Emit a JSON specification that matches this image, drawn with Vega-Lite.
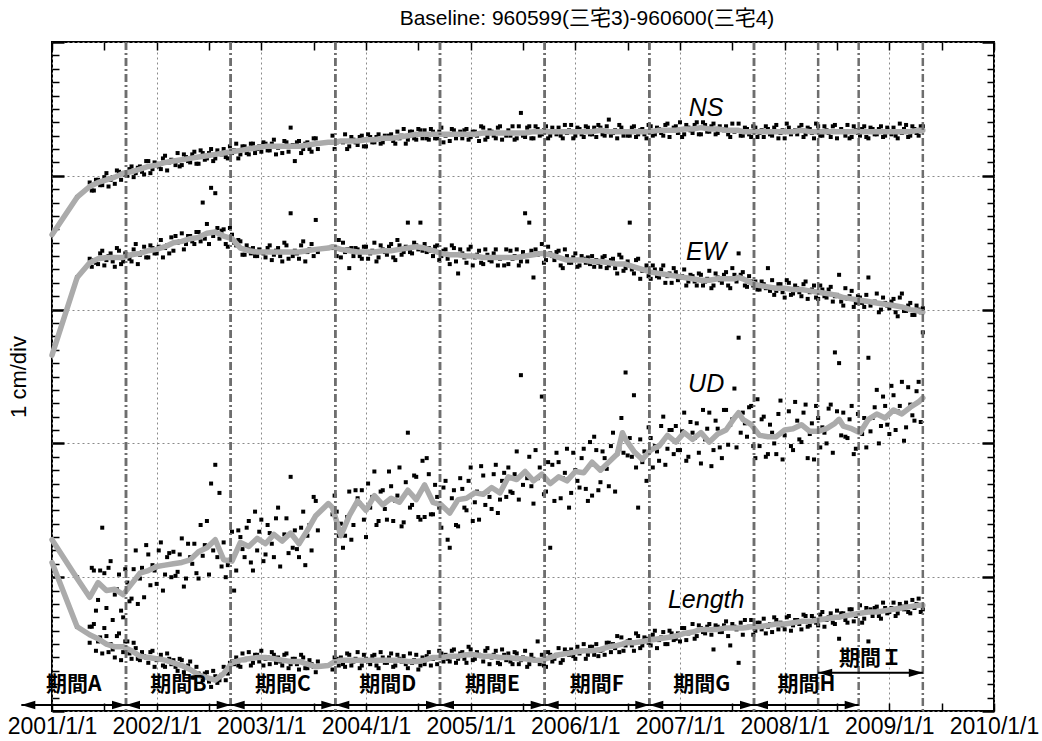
{
"$schema":"https://vega.github.io/schema/vega-lite/v6.json",
"width":942,"height":669,
"autosize":{"type":"none"},
"padding":{"left":52,"top":42,"right":48,"bottom":30},
"background":"white",
"config":{"view":{"stroke":"black","strokeWidth":2},"font":"Liberation Sans"},
"title":{"text":"Baseline: 960599(三宅3)-960600(三宅4)","font":"Liberation Sans, Noto Sans CJK JP","fontSize":21,"fontWeight":"normal","color":"black","anchor":"middle","dx":64,"offset":12},
"datasets":{
"pts":[
{"t":2001.24,"n":38.4,"e":32.4,"u":10.0,"l":6.3},
{"t":2001.36,"n":39.5,"e":33.8,"u":6.3,"l":5.1},
{"t":2001.4,"n":38.9,"e":33.7,"u":10.5,"l":6.5},
{"t":2001.44,"n":39.7,"e":33.4,"u":8.3,"l":5.2},
{"t":2001.48,"n":39.3,"e":34.4,"u":13.7,"l":4.3},
{"t":2001.52,"n":40.2,"e":33.7,"u":7.7,"l":5.6},
{"t":2001.56,"n":39.7,"e":34.2,"u":11.2,"l":5.0},
{"t":2001.6,"n":39.4,"e":33.2,"u":8.7,"l":4.0},
{"t":2001.64,"n":40.3,"e":34.4,"u":10.2,"l":5.8},
{"t":2001.68,"n":40.2,"e":33.6,"u":7.0,"l":4.4},
{"t":2001.72,"n":40.0,"e":34.1,"u":9.6,"l":5.2},
{"t":2001.76,"n":40.7,"e":33.6,"u":8.4,"l":3.9},
{"t":2001.8,"n":40.2,"e":34.9,"u":12.0,"l":4.7},
{"t":2001.84,"n":40.7,"e":34.1,"u":9.9,"l":3.8},
{"t":2001.88,"n":40.1,"e":34.7,"u":8.5,"l":4.1},
{"t":2001.92,"n":41.1,"e":33.9,"u":11.7,"l":3.6},
{"t":2001.96,"n":40.5,"e":34.6,"u":10.9,"l":4.5},
{"t":2002,"n":40.9,"e":34.2,"u":9.5,"l":3.8},
{"t":2002.04,"n":40.5,"e":35.2,"u":12.6,"l":4.2},
{"t":2002.08,"n":41.5,"e":34.6,"u":10.2,"l":3.3},
{"t":2002.12,"n":41.0,"e":34.2,"u":11.8,"l":3.9},
{"t":2002.16,"n":41.1,"e":34.4,"u":11.9,"l":3.8},
{"t":2002.2,"n":41.7,"e":35.0,"u":10.4,"l":3.0},
{"t":2002.24,"n":40.8,"e":35.7,"u":12.9,"l":3.8},
{"t":2002.28,"n":41.4,"e":34.9,"u":9.9,"l":3.2},
{"t":2002.32,"n":41.0,"e":35.5,"u":11.5,"l":3.7},
{"t":2002.36,"n":41.8,"e":34.9,"u":12.5,"l":2.5},
{"t":2002.4,"n":40.9,"e":35.8,"u":9.9,"l":2.8},
{"t":2002.44,"n":41.7,"e":38.0,"u":11.6,"l":2.3},
{"t":2002.48,"n":41.3,"e":36.4,"u":14.2,"l":2.9},
{"t":2002.52,"n":42.0,"e":39.1,"u":17.0,"l":1.8},
{"t":2002.56,"n":41.3,"e":38.7,"u":18.4,"l":2.6},
{"t":2002.6,"n":41.7,"e":35.3,"u":16.3,"l":2.3},
{"t":2002.64,"n":42.0,"e":36.0,"u":12.6,"l":3.3},
{"t":2002.68,"n":41.3,"e":34.7,"u":10.9,"l":2.8},
{"t":2002.72,"n":41.7,"e":35.6,"u":13.4,"l":3.7},
{"t":2002.76,"n":42.4,"e":34.8,"u":10.5,"l":4.0},
{"t":2002.8,"n":41.6,"e":35.1,"u":13.0,"l":3.3},
{"t":2002.84,"n":42.2,"e":34.1,"u":11.5,"l":3.8},
{"t":2002.88,"n":41.6,"e":34.5,"u":14.2,"l":4.4},
{"t":2002.92,"n":42.4,"e":34.6,"u":10.5,"l":3.6},
{"t":2002.96,"n":42.0,"e":34.0,"u":12.0,"l":4.2},
{"t":2003,"n":41.8,"e":34.3,"u":14.3,"l":4.5},
{"t":2003.04,"n":42.4,"e":33.9,"u":11.7,"l":3.9},
{"t":2003.08,"n":41.9,"e":34.8,"u":13.3,"l":3.5},
{"t":2003.12,"n":42.7,"e":34.1,"u":11.5,"l":4.2},
{"t":2003.16,"n":42.1,"e":34.6,"u":15.2,"l":4.0},
{"t":2003.2,"n":41.7,"e":33.6,"u":12.8,"l":3.4},
{"t":2003.24,"n":42.5,"e":34.8,"u":14.4,"l":4.3},
{"t":2003.28,"n":43.6,"e":37.2,"u":17.5,"l":3.5},
{"t":2003.32,"n":41.1,"e":34.4,"u":13.5,"l":3.9},
{"t":2003.36,"n":42.6,"e":33.8,"u":11.5,"l":3.1},
{"t":2003.4,"n":42.0,"e":35.1,"u":14.9,"l":4.0},
{"t":2003.44,"n":42.5,"e":34.3,"u":13.1,"l":3.2},
{"t":2003.48,"n":41.8,"e":34.9,"u":12.0,"l":3.5},
{"t":2003.52,"n":42.8,"e":36.7,"u":15.7,"l":2.9},
{"t":2003.68,"n":43.0,"e":34.6,"u":14.7,"l":3.1},
{"t":2003.72,"n":42.5,"e":34.0,"u":14.9,"l":3.9},
{"t":2003.76,"n":42.6,"e":33.9,"u":14.0,"l":4.0},
{"t":2003.8,"n":43.1,"e":34.3,"u":13.1,"l":3.3},
{"t":2003.84,"n":42.2,"e":33.1,"u":16.4,"l":4.2},
{"t":2003.88,"n":42.7,"e":34.0,"u":13.9,"l":3.7},
{"t":2003.92,"n":42.3,"e":34.5,"u":15.9,"l":4.4},
{"t":2003.96,"n":43.0,"e":33.8,"u":16.5,"l":3.4},
{"t":2004,"n":42.2,"e":34.7,"u":13.0,"l":3.9},
{"t":2004.04,"n":42.9,"e":34.2,"u":15.2,"l":3.5},
{"t":2004.08,"n":42.5,"e":35.0,"u":17.9,"l":4.2},
{"t":2004.12,"n":43.1,"e":33.9,"u":14.2,"l":3.2},
{"t":2004.16,"n":42.5,"e":34.5,"u":16.5,"l":4.0},
{"t":2004.2,"n":42.8,"e":34.1,"u":14.3,"l":3.6},
{"t":2004.24,"n":43.1,"e":34.9,"u":16.8,"l":4.3},
{"t":2004.28,"n":42.4,"e":33.7,"u":15.7,"l":3.4},
{"t":2004.32,"n":42.8,"e":34.8,"u":18.2,"l":3.9},
{"t":2004.36,"n":43.5,"e":34.3,"u":14.1,"l":4.1},
{"t":2004.4,"n":42.7,"e":36.5,"u":20.8,"l":3.2},
{"t":2004.44,"n":43.3,"e":34.2,"u":15.4,"l":3.6},
{"t":2004.48,"n":42.7,"e":34.8,"u":17.5,"l":4.2},
{"t":2004.52,"n":43.4,"e":36.5,"u":14.3,"l":3.4},
{"t":2004.56,"n":43.4,"e":34.9,"u":14.5,"l":3.5},
{"t":2004.6,"n":42.7,"e":34.6,"u":17.7,"l":4.4},
{"t":2004.64,"n":43.3,"e":34.0,"u":14.7,"l":3.9},
{"t":2004.68,"n":42.8,"e":34.8,"u":16.0,"l":3.5},
{"t":2004.72,"n":43.6,"e":34.0,"u":13.7,"l":4.3},
{"t":2004.76,"n":43.0,"e":34.5,"u":17.2,"l":4.2},
{"t":2004.8,"n":42.6,"e":33.4,"u":12.2,"l":3.7},
{"t":2004.84,"n":43.4,"e":34.6,"u":16.5,"l":4.6},
{"t":2004.88,"n":43.1,"e":32.7,"u":13.8,"l":3.9},
{"t":2004.92,"n":42.8,"e":34.2,"u":16.6,"l":4.4},
{"t":2004.96,"n":43.5,"e":33.5,"u":15.0,"l":3.6},
{"t":2005,"n":42.9,"e":34.7,"u":18.2,"l":4.6},
{"t":2005.04,"n":43.3,"e":33.9,"u":15.6,"l":3.9},
{"t":2005.08,"n":42.6,"e":34.4,"u":14.3,"l":4.2},
{"t":2005.12,"n":43.6,"e":33.4,"u":17.6,"l":3.7},
{"t":2005.16,"n":42.9,"e":34.1,"u":16.4,"l":4.7},
{"t":2005.2,"n":43.3,"e":33.6,"u":15.1,"l":4.0},
{"t":2005.24,"n":42.8,"e":34.5,"u":18.4,"l":4.5},
{"t":2005.28,"n":43.7,"e":33.8,"u":15.8,"l":3.5},
{"t":2005.32,"n":43.2,"e":33.3,"u":17.8,"l":4.2},
{"t":2005.36,"n":43.4,"e":33.4,"u":18.2,"l":4.3},
{"t":2005.4,"n":43.7,"e":33.8,"u":16.3,"l":3.5},
{"t":2005.44,"n":42.8,"e":34.5,"u":19.4,"l":4.3},
{"t":2005.48,"n":44.7,"e":33.6,"u":25.1,"l":3.8},
{"t":2005.52,"n":42.9,"e":37.2,"u":17.8,"l":4.5},
{"t":2005.56,"n":43.7,"e":36.5,"u":19.0,"l":3.5},
{"t":2005.6,"n":42.8,"e":32.4,"u":15.5,"l":3.9},
{"t":2005.64,"n":43.5,"e":34.1,"u":17.4,"l":5.2},
{"t":2005.68,"n":43.1,"e":34.9,"u":23.5,"l":4.2},
{"t":2005.72,"n":43.7,"e":33.7,"u":16.4,"l":3.3},
{"t":2005.76,"n":43.0,"e":34.2,"u":12.2,"l":4.2},
{"t":2005.8,"n":43.3,"e":33.7,"u":15.7,"l":3.9},
{"t":2005.84,"n":43.6,"e":34.4,"u":18.6,"l":4.7},
{"t":2005.88,"n":42.8,"e":33.1,"u":17.4,"l":3.8},
{"t":2005.92,"n":43.2,"e":34.0,"u":19.6,"l":4.4},
{"t":2005.96,"n":43.8,"e":33.5,"u":16.3,"l":4.6},
{"t":2006,"n":43.0,"e":34.2,"u":18.0,"l":3.9},
{"t":2006.04,"n":43.5,"e":33.3,"u":16.7,"l":4.3},
{"t":2006.08,"n":42.9,"e":33.8,"u":19.6,"l":5.0},
{"t":2006.12,"n":43.6,"e":33.9,"u":15.7,"l":4.2},
{"t":2006.16,"n":43.1,"e":34.0,"u":16.1,"l":4.8},
{"t":2006.2,"n":42.9,"e":33.7,"u":19.5,"l":5.0},
{"t":2006.24,"n":43.6,"e":33.2,"u":17.1,"l":4.5},
{"t":2006.28,"n":43.0,"e":34.0,"u":18.9,"l":4.2},
{"t":2006.32,"n":44.2,"e":33.3,"u":16.8,"l":5.1},
{"t":2006.36,"n":43.2,"e":33.8,"u":20.8,"l":5.0},
{"t":2006.4,"n":42.8,"e":32.7,"u":19.2,"l":5.6},
{"t":2006.44,"n":43.6,"e":33.9,"u":21.9,"l":5.5},
{"t":2006.48,"n":43.3,"e":33.1,"u":25.3,"l":4.9},
{"t":2006.52,"n":43.0,"e":36.5,"u":20.4,"l":5.3},
{"t":2006.56,"n":43.7,"e":32.7,"u":23.6,"l":4.5},
{"t":2006.6,"n":43.1,"e":33.8,"u":15.2,"l":5.6},
{"t":2006.64,"n":43.5,"e":32.9,"u":18.6,"l":4.9},
{"t":2006.68,"n":42.8,"e":33.3,"u":17.2,"l":5.4},
{"t":2006.72,"n":43.7,"e":32.3,"u":20.4,"l":4.9},
{"t":2006.76,"n":43.1,"e":33.0,"u":19.8,"l":6.0},
{"t":2006.8,"n":43.5,"e":32.4,"u":18.7,"l":5.3},
{"t":2006.84,"n":43.0,"e":33.3,"u":22.0,"l":5.9},
{"t":2006.88,"n":43.9,"e":32.5,"u":19.6,"l":5.0},
{"t":2006.92,"n":43.4,"e":32.0,"u":21.0,"l":5.8},
{"t":2006.96,"n":43.7,"e":32.8,"u":21.3,"l":5.4},
{"t":2007,"n":44.0,"e":32.4,"u":19.5,"l":5.2},
{"t":2007.04,"n":43.1,"e":33.0,"u":22.3,"l":6.2},
{"t":2007.08,"n":43.6,"e":32.1,"u":19.0,"l":5.8},
{"t":2007.12,"n":43.2,"e":32.5,"u":20.8,"l":6.5},
{"t":2007.16,"n":44.0,"e":31.8,"u":21.5,"l":5.6},
{"t":2007.2,"n":43.1,"e":32.6,"u":18.5,"l":6.2},
{"t":2007.24,"n":43.8,"e":32.1,"u":20.3,"l":5.8},
{"t":2007.28,"n":43.3,"e":32.9,"u":22.3,"l":6.5},
{"t":2007.32,"n":43.9,"e":31.8,"u":19.5,"l":4.6},
{"t":2007.36,"n":43.2,"e":32.4,"u":21.1,"l":6.3},
{"t":2007.4,"n":43.5,"e":32.0,"u":18.9,"l":5.9},
{"t":2007.44,"n":43.7,"e":32.8,"u":22.5,"l":6.7},
{"t":2007.48,"n":42.9,"e":31.6,"u":21.4,"l":4.9},
{"t":2007.52,"n":43.3,"e":32.6,"u":24.1,"l":6.3},
{"t":2007.56,"n":43.9,"e":34.2,"u":27.9,"l":3.6},
{"t":2007.6,"n":43.0,"e":32.8,"u":22.3,"l":5.7},
{"t":2007.64,"n":43.5,"e":31.7,"u":20.5,"l":6.2},
{"t":2007.68,"n":42.9,"e":32.1,"u":22.8,"l":6.8},
{"t":2007.72,"n":43.6,"e":32.1,"u":18.9,"l":6.0},
{"t":2007.76,"n":43.2,"e":31.5,"u":19.8,"l":6.6},
{"t":2007.8,"n":42.9,"e":31.9,"u":22.0,"l":6.9},
{"t":2007.84,"n":43.5,"e":33.1,"u":19.2,"l":6.3},
{"t":2007.88,"n":43.0,"e":32.2,"u":20.8,"l":5.9},
{"t":2007.92,"n":43.8,"e":31.4,"u":19.2,"l":6.8},
{"t":2007.96,"n":43.2,"e":31.9,"u":23.2,"l":6.6},
{"t":2008,"n":42.8,"e":30.9,"u":20.6,"l":6.1},
{"t":2008.04,"n":43.6,"e":32.0,"u":22.4,"l":7.1},
{"t":2008.08,"n":43.3,"e":31.2,"u":19.5,"l":6.4},
{"t":2008.12,"n":43.1,"e":31.6,"u":21.7,"l":6.8},
{"t":2008.16,"n":43.8,"e":31.0,"u":20.1,"l":6.1},
{"t":2008.2,"n":43.1,"e":32.1,"u":22.9,"l":7.1},
{"t":2008.24,"n":43.5,"e":31.3,"u":20.7,"l":6.4},
{"t":2008.28,"n":42.8,"e":31.8,"u":18.8,"l":6.9},
{"t":2008.32,"n":43.7,"e":30.8,"u":21.9,"l":6.4},
{"t":2008.36,"n":43.0,"e":31.5,"u":21.2,"l":7.4},
{"t":2008.4,"n":43.4,"e":30.9,"u":20.0,"l":6.8},
{"t":2008.44,"n":42.9,"e":31.7,"u":22.9,"l":7.3},
{"t":2008.48,"n":43.8,"e":31.0,"u":26.8,"l":6.5},
{"t":2008.52,"n":43.3,"e":32.6,"u":26.0,"l":5.4},
{"t":2008.56,"n":43.3,"e":30.3,"u":22.3,"l":7.3},
{"t":2008.6,"n":43.8,"e":30.8,"u":20.4,"l":6.6},
{"t":2008.64,"n":42.9,"e":31.4,"u":22.8,"l":7.6},
{"t":2008.68,"n":43.4,"e":30.5,"u":19.6,"l":7.1},
{"t":2008.72,"n":43.0,"e":30.9,"u":21.1,"l":7.9},
{"t":2008.76,"n":43.7,"e":30.2,"u":21.9,"l":6.9},
{"t":2008.8,"n":42.8,"e":32.4,"u":26.4,"l":5.2},
{"t":2008.84,"n":43.5,"e":30.5,"u":21.9,"l":7.1},
{"t":2008.88,"n":43.1,"e":31.2,"u":24.0,"l":7.8},
{"t":2008.92,"n":43.7,"e":30.0,"u":21.3,"l":6.9},
{"t":2008.96,"n":43.0,"e":30.5,"u":22.8,"l":7.7},
{"t":2009,"n":43.3,"e":30.1,"u":20.7,"l":7.4},
{"t":2009.04,"n":43.6,"e":30.8,"u":23.6,"l":8.1},
{"t":2009.08,"n":42.8,"e":29.5,"u":22.4,"l":7.3},
{"t":2009.12,"n":43.2,"e":31.2,"u":24.6,"l":7.8},
{"t":2009.16,"n":43.8,"e":29.9,"u":21.2,"l":8.1},
{"t":2009.2,"n":43.0,"e":30.5,"u":22.9,"l":7.3},
{"t":2009.24,"n":43.5,"e":29.6,"u":21.7,"l":7.7},
{"t":2009.28,"n":43.0,"e":30.0,"u":24.6,"l":8.4},
{"t":2009.32,"n":43.7,"e":30.1,"u":28.3,"l":7.6},
{"t":2001.38,"n":38.9,"e":33.2,"u":10.7,"l":6.3},
{"t":2001.42,"n":39.7,"e":33.5,"u":7.5,"l":4.5},
{"t":2001.46,"n":39.3,"e":34.2,"u":10.5,"l":5.5},
{"t":2001.5,"n":39.9,"e":33.3,"u":10.3,"l":6.2},
{"t":2001.54,"n":39.2,"e":34.0,"u":10.7,"l":4.4},
{"t":2001.58,"n":39.9,"e":33.6,"u":6.8,"l":4.6},
{"t":2001.62,"n":40.4,"e":34.6,"u":9.1,"l":5.6},
{"t":2001.66,"n":39.7,"e":33.4,"u":7.5,"l":3.8},
{"t":2001.7,"n":40.1,"e":34.2,"u":10.6,"l":5.2},
{"t":2001.74,"n":40.5,"e":33.8,"u":8.2,"l":4.3},
{"t":2001.78,"n":39.9,"e":34.5,"u":10.6,"l":5.1},
{"t":2001.82,"n":40.6,"e":33.4,"u":8.0,"l":3.9},
{"t":2001.86,"n":40.3,"e":34.3,"u":10.7,"l":4.4},
{"t":2001.9,"n":41.1,"e":33.9,"u":12.4,"l":4.0},
{"t":2001.94,"n":40.2,"e":34.8,"u":9.4,"l":4.4},
{"t":2001.98,"n":41.0,"e":34.2,"u":10.5,"l":3.3},
{"t":2002.02,"n":40.7,"e":34.7,"u":12.0,"l":3.9},
{"t":2002.06,"n":41.3,"e":33.9,"u":9.0,"l":3.4},
{"t":2002.1,"n":40.4,"e":34.8,"u":11.5,"l":4.3},
{"t":2002.14,"n":41.2,"e":35.4,"u":10.0,"l":3.5},
{"t":2002.18,"n":40.8,"e":35.5,"u":10.1,"l":3.3},
{"t":2002.22,"n":40.7,"e":35.1,"u":11.7,"l":3.9},
{"t":2002.26,"n":41.6,"e":34.5,"u":9.3,"l":2.9},
{"t":2002.3,"n":41.1,"e":35.5,"u":12.5,"l":3.4},
{"t":2002.34,"n":41.6,"e":35.1,"u":11.0,"l":2.5},
{"t":2002.38,"n":40.9,"e":35.8,"u":10.3,"l":3.3},
{"t":2002.42,"n":41.9,"e":35.1,"u":13.9,"l":2.6},
{"t":2002.46,"n":41.2,"e":35.3,"u":12.4,"l":2.8},
{"t":2002.5,"n":41.7,"e":34.9,"u":10.2,"l":2.2},
{"t":2002.54,"n":41.1,"e":35.5,"u":12.0,"l":3.0},
{"t":2002.58,"n":41.9,"e":36.1,"u":11.5,"l":2.1},
{"t":2002.62,"n":41.6,"e":35.9,"u":10.8,"l":2.7},
{"t":2002.66,"n":41.4,"e":34.9,"u":10.0,"l":2.3},
{"t":2002.7,"n":42.2,"e":36.1,"u":11.3,"l":3.6},
{"t":2002.74,"n":41.9,"e":35.0,"u":9.0,"l":3.5},
{"t":2002.78,"n":41.3,"e":35.2,"u":13.5,"l":3.4},
{"t":2002.82,"n":42.2,"e":34.1,"u":12.1,"l":4.3},
{"t":2002.86,"n":41.7,"e":34.8,"u":13.7,"l":3.9},
{"t":2002.9,"n":42.4,"e":34.2,"u":11.1,"l":3.4},
{"t":2002.94,"n":41.7,"e":34.0,"u":14.9,"l":4.2},
{"t":2002.98,"n":42.2,"e":34.5,"u":13.4,"l":3.7},
{"t":2003.02,"n":42.5,"e":34.2,"u":11.2,"l":3.4},
{"t":2003.06,"n":41.9,"e":34.6,"u":13.9,"l":4.0},
{"t":2003.1,"n":42.4,"e":33.7,"u":12.5,"l":4.4},
{"t":2003.14,"n":41.6,"e":34.4,"u":14.4,"l":3.6},
{"t":2003.18,"n":42.2,"e":34.0,"u":10.8,"l":3.7},
{"t":2003.22,"n":42.6,"e":35.0,"u":13.2,"l":4.2},
{"t":2003.26,"n":41.8,"e":33.8,"u":11.8,"l":3.2},
{"t":2003.3,"n":42.3,"e":34.0,"u":12.2,"l":3.9},
{"t":2003.34,"n":42.5,"e":34.2,"u":12.1,"l":3.5},
{"t":2003.38,"n":41.7,"e":34.8,"u":13.7,"l":4.2},
{"t":2003.42,"n":42.4,"e":33.6,"u":10.9,"l":3.2},
{"t":2003.46,"n":42.0,"e":34.5,"u":13.9,"l":3.8},
{"t":2003.5,"n":42.8,"e":34.0,"u":16.0,"l":3.3},
{"t":2003.54,"n":42.0,"e":34.3,"u":13.5,"l":3.7},
{"t":2003.7,"n":42.0,"e":34.7,"u":16.1,"l":4.0},
{"t":2003.74,"n":42.6,"e":35.2,"u":13.1,"l":3.4},
{"t":2003.78,"n":42.5,"e":35.0,"u":12.2,"l":3.5},
{"t":2003.82,"n":42.0,"e":34.5,"u":14.5,"l":4.3},
{"t":2003.86,"n":42.9,"e":34.6,"u":12.8,"l":3.4},
{"t":2003.9,"n":42.5,"e":34.6,"u":16.5,"l":3.9},
{"t":2003.94,"n":42.9,"e":34.0,"u":15.5,"l":3.2},
{"t":2003.98,"n":42.2,"e":34.7,"u":14.3,"l":4.2},
{"t":2004.02,"n":43.1,"e":33.8,"u":17.0,"l":3.7},
{"t":2004.06,"n":42.5,"e":34.4,"u":16.0,"l":4.1},
{"t":2004.1,"n":42.9,"e":33.6,"u":13.9,"l":3.4},
{"t":2004.14,"n":42.4,"e":34.8,"u":16.4,"l":4.4},
{"t":2004.18,"n":43.0,"e":34.3,"u":15.1,"l":3.6},
{"t":2004.22,"n":43.0,"e":34.7,"u":17.9,"l":4.0},
{"t":2004.26,"n":42.6,"e":33.9,"u":14.2,"l":3.3},
{"t":2004.3,"n":43.3,"e":35.2,"u":16.1,"l":4.2},
{"t":2004.34,"n":43.0,"e":34.1,"u":13.8,"l":3.7},
{"t":2004.38,"n":42.4,"e":34.7,"u":17.1,"l":3.5},
{"t":2004.42,"n":43.3,"e":34.3,"u":15.2,"l":4.3},
{"t":2004.46,"n":42.8,"e":35.0,"u":17.6,"l":3.8},
{"t":2004.5,"n":43.5,"e":34.5,"u":14.5,"l":3.1},
{"t":2004.54,"n":42.8,"e":34.4,"u":18.7,"l":4.0},
{"t":2004.58,"n":42.8,"e":34.3,"u":18.9,"l":4.1},
{"t":2004.62,"n":43.5,"e":34.4,"u":14.7,"l":3.4},
{"t":2004.66,"n":42.8,"e":34.7,"u":16.9,"l":4.0},
{"t":2004.7,"n":43.3,"e":33.7,"u":15.2,"l":4.5},
{"t":2004.74,"n":42.5,"e":34.4,"u":16.7,"l":3.7},
{"t":2004.78,"n":43.1,"e":33.8,"u":12.8,"l":3.9},
{"t":2004.82,"n":43.5,"e":34.8,"u":15.9,"l":4.5},
{"t":2004.86,"n":42.8,"e":33.6,"u":13.9,"l":3.6},
{"t":2004.9,"n":43.3,"e":34.5,"u":17.4,"l":4.3},
{"t":2004.94,"n":43.4,"e":33.9,"u":15.2,"l":3.9},
{"t":2004.98,"n":42.7,"e":34.5,"u":17.2,"l":4.8},
{"t":2005.02,"n":43.3,"e":33.3,"u":14.2,"l":3.8},
{"t":2005.06,"n":43.0,"e":34.1,"u":16.4,"l":4.4},
{"t":2005.1,"n":43.7,"e":33.5,"u":18.3,"l":4.1},
{"t":2005.14,"n":42.7,"e":34.5,"u":15.4,"l":4.5},
{"t":2005.18,"n":43.4,"e":33.7,"u":16.0,"l":3.5},
{"t":2005.22,"n":43.0,"e":34.2,"u":17.7,"l":4.2},
{"t":2005.26,"n":43.6,"e":33.3,"u":14.8,"l":3.6},
{"t":2005.3,"n":42.7,"e":33.9,"u":17.2,"l":4.6},
{"t":2005.34,"n":43.0,"e":34.5,"u":16.0,"l":3.8},
{"t":2005.38,"n":43.0,"e":34.4,"u":16.4,"l":3.7},
{"t":2005.42,"n":42.7,"e":34.0,"u":17.7,"l":4.4},
{"t":2005.46,"n":43.7,"e":33.3,"u":15.8,"l":3.5},
{"t":2005.5,"n":43.0,"e":34.3,"u":16.9,"l":4.0},
{"t":2005.54,"n":43.6,"e":33.6,"u":17.4,"l":3.3},
{"t":2005.58,"n":42.8,"e":34.4,"u":16.8,"l":4.2},
{"t":2005.62,"n":43.7,"e":34.5,"u":19.5,"l":3.8},
{"t":2005.66,"n":43.0,"e":34.2,"u":18.2,"l":3.5},
{"t":2005.7,"n":43.4,"e":33.5,"u":16.2,"l":3.4},
{"t":2005.74,"n":42.8,"e":34.7,"u":18.6,"l":4.4},
{"t":2005.78,"n":43.6,"e":34.0,"u":18.4,"l":3.7},
{"t":2005.82,"n":43.1,"e":34.3,"u":19.3,"l":4.2},
{"t":2005.86,"n":43.0,"e":33.3,"u":15.9,"l":3.6},
{"t":2005.9,"n":43.8,"e":34.5,"u":17.8,"l":4.6},
{"t":2005.94,"n":43.4,"e":33.5,"u":15.2,"l":4.2},
{"t":2005.98,"n":42.8,"e":33.9,"u":19.3,"l":4.1},
{"t":2006.02,"n":43.6,"e":33.2,"u":17.2,"l":4.8},
{"t":2006.06,"n":43.1,"e":34.0,"u":18.9,"l":4.5},
{"t":2006.1,"n":43.7,"e":33.5,"u":16.6,"l":3.9},
{"t":2006.14,"n":43.1,"e":33.4,"u":20.1,"l":4.8},
{"t":2006.18,"n":43.6,"e":33.2,"u":20.5,"l":4.2},
{"t":2006.22,"n":43.8,"e":33.5,"u":16.5,"l":4.1},
{"t":2006.26,"n":43.1,"e":33.9,"u":19.4,"l":4.6},
{"t":2006.3,"n":43.7,"e":33.1,"u":18.1,"l":5.1},
{"t":2006.34,"n":43.0,"e":33.7,"u":19.8,"l":4.4},
{"t":2006.38,"n":43.4,"e":33.1,"u":16.4,"l":4.7},
{"t":2006.42,"n":43.8,"e":34.1,"u":19.6,"l":4.4},
{"t":2006.46,"n":43.0,"e":32.9,"u":19.3,"l":4.5},
{"t":2006.5,"n":43.0,"e":33.6,"u":19.1,"l":5.2},
{"t":2006.54,"n":43.6,"e":33.0,"u":19.0,"l":4.9},
{"t":2006.58,"n":42.9,"e":33.7,"u":18.2,"l":5.8},
{"t":2006.62,"n":43.4,"e":32.3,"u":20.3,"l":4.7},
{"t":2006.66,"n":43.1,"e":33.0,"u":19.4,"l":5.5},
{"t":2006.7,"n":43.8,"e":32.5,"u":21.2,"l":5.1},
{"t":2006.74,"n":43.0,"e":33.3,"u":18.2,"l":5.7},
{"t":2006.78,"n":43.6,"e":32.5,"u":19.4,"l":4.7},
{"t":2006.82,"n":43.2,"e":33.0,"u":21.3,"l":5.5},
{"t":2006.86,"n":43.8,"e":32.0,"u":18.4,"l":5.0},
{"t":2006.9,"n":42.9,"e":32.7,"u":21.0,"l":6.0},
{"t":2006.94,"n":43.6,"e":33.1,"u":19.2,"l":5.3},
{"t":2006.98,"n":43.2,"e":32.2,"u":19.5,"l":5.8},
{"t":2007.02,"n":42.9,"e":32.5,"u":20.9,"l":6.2},
{"t":2007.06,"n":43.8,"e":31.8,"u":18.7,"l":5.3},
{"t":2007.1,"n":43.4,"e":32.6,"u":21.6,"l":5.9},
{"t":2007.14,"n":43.8,"e":32.1,"u":20.4,"l":5.4},
{"t":2007.18,"n":43.1,"e":32.7,"u":19.3,"l":6.4},
{"t":2007.22,"n":44.0,"e":31.8,"u":22.5,"l":5.9},
{"t":2007.26,"n":43.3,"e":32.3,"u":21.1,"l":6.3},
{"t":2007.3,"n":43.7,"e":31.6,"u":18.3,"l":5.7},
{"t":2007.34,"n":43.1,"e":32.7,"u":21.7,"l":6.4},
{"t":2007.38,"n":43.7,"e":32.2,"u":19.7,"l":5.9},
{"t":2007.42,"n":43.4,"e":32.6,"u":22.5,"l":6.4},
{"t":2007.46,"n":43.1,"e":31.8,"u":19.9,"l":5.6},
{"t":2007.5,"n":43.9,"e":33.1,"u":21.8,"l":6.5},
{"t":2007.54,"n":43.4,"e":32.1,"u":19.7,"l":6.1},
{"t":2007.58,"n":43.0,"e":32.6,"u":20.8,"l":6.6},
{"t":2007.62,"n":43.6,"e":31.8,"u":21.5,"l":6.8},
{"t":2007.66,"n":43.1,"e":32.5,"u":22.7,"l":6.3},
{"t":2007.7,"n":43.7,"e":31.8,"u":19.8,"l":5.7},
{"t":2007.74,"n":42.9,"e":31.5,"u":23.3,"l":6.6},
{"t":2007.78,"n":43.4,"e":32.1,"u":21.8,"l":6.1},
{"t":2007.82,"n":43.7,"e":31.6,"u":19.0,"l":5.8},
{"t":2007.86,"n":43.1,"e":31.4,"u":21.4,"l":6.5},
{"t":2007.9,"n":43.6,"e":31.1,"u":20.0,"l":7.0},
{"t":2007.94,"n":42.8,"e":31.9,"u":22.2,"l":6.1},
{"t":2007.98,"n":43.4,"e":31.3,"u":18.8,"l":6.4},
{"t":2008.02,"n":43.9,"e":32.2,"u":21.0,"l":7.0},
{"t":2008.06,"n":43.1,"e":31.1,"u":19.8,"l":6.0},
{"t":2008.1,"n":43.4,"e":31.8,"u":23.1,"l":6.8},
{"t":2008.14,"n":43.6,"e":31.3,"u":20.3,"l":6.5},
{"t":2008.18,"n":42.9,"e":31.9,"u":22.3,"l":7.2},
{"t":2008.22,"n":43.6,"e":30.8,"u":18.9,"l":6.3},
{"t":2008.26,"n":43.2,"e":31.5,"u":21.5,"l":7.1},
{"t":2008.3,"n":43.9,"e":30.9,"u":22.8,"l":6.6},
{"t":2008.34,"n":43.0,"e":31.8,"u":19.7,"l":7.2},
{"t":2008.38,"n":43.7,"e":31.0,"u":20.8,"l":6.3},
{"t":2008.42,"n":43.2,"e":31.5,"u":22.6,"l":7.0},
{"t":2008.46,"n":43.7,"e":30.6,"u":19.3,"l":6.6},
{"t":2008.5,"n":42.8,"e":31.1,"u":22.4,"l":7.5},
{"t":2008.54,"n":43.5,"e":30.6,"u":20.6,"l":7.3},
{"t":2008.58,"n":43.0,"e":31.6,"u":20.5,"l":6.8},
{"t":2008.62,"n":42.8,"e":31.0,"u":21.8,"l":7.6},
{"t":2008.66,"n":43.7,"e":30.2,"u":19.2,"l":6.7},
{"t":2008.7,"n":43.2,"e":31.0,"u":22.2,"l":7.3},
{"t":2008.74,"n":43.5,"e":30.5,"u":20.7,"l":6.6},
{"t":2008.78,"n":42.9,"e":31.1,"u":19.7,"l":7.7},
{"t":2008.82,"n":43.6,"e":30.3,"u":20.9,"l":7.6},
{"t":2008.86,"n":43.1,"e":30.6,"u":22.7,"l":7.7},
{"t":2008.9,"n":43.5,"e":29.8,"u":20.0,"l":7.1},
{"t":2008.94,"n":42.9,"e":30.9,"u":23.5,"l":8.1},
{"t":2008.98,"n":43.6,"e":30.3,"u":21.4,"l":7.3},
{"t":2009.02,"n":43.1,"e":30.6,"u":24.3,"l":7.7},
{"t":2009.06,"n":43.0,"e":29.8,"u":21.0,"l":7.1},
{"t":2009.1,"n":43.9,"e":30.9,"u":22.8,"l":8.0},
{"t":2009.14,"n":43.5,"e":29.9,"u":20.2,"l":7.6},
{"t":2009.18,"n":42.9,"e":30.3,"u":24.2,"l":7.4},
{"t":2009.22,"n":43.7,"e":29.6,"u":22.1,"l":8.3},
{"t":2009.26,"n":43.2,"e":30.3,"u":23.9,"l":8.0},
{"t":2009.3,"n":43.7,"e":29.8,"u":21.6,"l":7.4}
],
"ln":[
{"t":2001,"n":35.6,"e":26.6,"u":12.8,"l":11.1},
{"t":2001.24,"n":38.4,"e":32.4,"u":9.9,"l":6.3},
{"t":2001.36,"n":39.2,"e":33.5,"u":8.5,"l":5.7},
{"t":2001.44,"n":39.5,"e":33.8,"u":9.6,"l":5.4},
{"t":2001.52,"n":39.7,"e":33.9,"u":9.0,"l":5.0},
{"t":2001.6,"n":39.9,"e":33.9,"u":9.1,"l":4.8},
{"t":2001.68,"n":40.2,"e":33.9,"u":8.7,"l":4.8},
{"t":2001.76,"n":40.3,"e":34.1,"u":9.5,"l":4.5},
{"t":2001.84,"n":40.5,"e":34.2,"u":10.3,"l":4.1},
{"t":2001.92,"n":40.7,"e":34.4,"u":10.5,"l":4.0},
{"t":2002,"n":40.8,"e":34.5,"u":10.8,"l":3.9},
{"t":2002.08,"n":41.0,"e":34.7,"u":10.9,"l":3.8},
{"t":2002.16,"n":41.1,"e":35.0,"u":11.0,"l":3.6},
{"t":2002.24,"n":41.2,"e":35.1,"u":11.1,"l":3.4},
{"t":2002.32,"n":41.3,"e":35.3,"u":11.3,"l":3.1},
{"t":2002.4,"n":41.4,"e":35.4,"u":11.9,"l":2.7},
{"t":2002.48,"n":41.5,"e":35.7,"u":12.2,"l":2.5},
{"t":2002.56,"n":41.6,"e":35.8,"u":12.8,"l":2.3},
{"t":2002.64,"n":41.7,"e":35.5,"u":11.3,"l":2.8},
{"t":2002.72,"n":41.8,"e":35.3,"u":11.2,"l":3.6},
{"t":2002.8,"n":41.9,"e":34.6,"u":12.6,"l":3.8},
{"t":2002.88,"n":42.0,"e":34.4,"u":12.3,"l":3.9},
{"t":2002.96,"n":42.1,"e":34.3,"u":12.9,"l":4.0},
{"t":2003.04,"n":42.2,"e":34.3,"u":12.5,"l":4.0},
{"t":2003.12,"n":42.2,"e":34.3,"u":13.2,"l":3.9},
{"t":2003.2,"n":42.2,"e":34.3,"u":12.7,"l":3.8},
{"t":2003.28,"n":42.2,"e":34.3,"u":13.3,"l":3.7},
{"t":2003.36,"n":42.2,"e":34.3,"u":12.5,"l":3.7},
{"t":2003.44,"n":42.3,"e":34.4,"u":13.5,"l":3.5},
{"t":2003.52,"n":42.4,"e":34.5,"u":14.6,"l":3.3},
{"t":2003.64,"n":42.5,"e":34.6,"u":15.5,"l":3.4},
{"t":2003.68,"n":42.5,"e":34.7,"u":15.2,"l":3.6},
{"t":2003.76,"n":42.6,"e":34.5,"u":13.1,"l":3.8},
{"t":2003.84,"n":42.6,"e":34.4,"u":14.6,"l":3.8},
{"t":2003.92,"n":42.6,"e":34.3,"u":15.7,"l":3.8},
{"t":2004,"n":42.7,"e":34.3,"u":15.0,"l":3.8},
{"t":2004.08,"n":42.7,"e":34.3,"u":16.1,"l":3.8},
{"t":2004.16,"n":42.8,"e":34.4,"u":15.4,"l":3.8},
{"t":2004.24,"n":42.8,"e":34.4,"u":15.9,"l":3.8},
{"t":2004.32,"n":42.9,"e":34.5,"u":15.6,"l":3.8},
{"t":2004.4,"n":43.0,"e":34.6,"u":16.5,"l":3.7},
{"t":2004.48,"n":43.1,"e":34.7,"u":15.8,"l":3.7},
{"t":2004.56,"n":43.1,"e":34.6,"u":16.9,"l":3.8},
{"t":2004.64,"n":43.1,"e":34.4,"u":15.6,"l":4.0},
{"t":2004.72,"n":43.1,"e":34.2,"u":15.4,"l":4.0},
{"t":2004.8,"n":43.1,"e":34.1,"u":14.8,"l":4.1},
{"t":2004.88,"n":43.1,"e":34.1,"u":15.8,"l":4.1},
{"t":2004.96,"n":43.1,"e":34.0,"u":15.9,"l":4.2},
{"t":2005.04,"n":43.1,"e":34.0,"u":16.3,"l":4.2},
{"t":2005.12,"n":43.2,"e":33.9,"u":16.2,"l":4.1},
{"t":2005.2,"n":43.2,"e":33.9,"u":16.7,"l":4.1},
{"t":2005.28,"n":43.2,"e":33.9,"u":16.3,"l":4.0},
{"t":2005.36,"n":43.2,"e":33.9,"u":17.5,"l":4.0},
{"t":2005.44,"n":43.2,"e":33.9,"u":17.3,"l":3.9},
{"t":2005.52,"n":43.2,"e":34.0,"u":17.9,"l":3.9},
{"t":2005.6,"n":43.3,"e":34.1,"u":17.2,"l":3.8},
{"t":2005.68,"n":43.3,"e":34.2,"u":17.7,"l":3.8},
{"t":2005.76,"n":43.3,"e":34.1,"u":17.0,"l":4.0},
{"t":2005.84,"n":43.3,"e":33.9,"u":17.5,"l":4.2},
{"t":2005.92,"n":43.3,"e":33.7,"u":17.2,"l":4.3},
{"t":2006,"n":43.3,"e":33.7,"u":17.9,"l":4.4},
{"t":2006.08,"n":43.3,"e":33.7,"u":17.8,"l":4.5},
{"t":2006.16,"n":43.3,"e":33.6,"u":18.6,"l":4.5},
{"t":2006.24,"n":43.4,"e":33.6,"u":18.0,"l":4.6},
{"t":2006.32,"n":43.3,"e":33.5,"u":18.6,"l":4.8},
{"t":2006.4,"n":43.3,"e":33.4,"u":19.2,"l":4.9},
{"t":2006.45,"n":43.3,"e":33.4,"u":20.8,"l":5.0},
{"t":2006.48,"n":43.3,"e":33.4,"u":20.3,"l":5.1},
{"t":2006.56,"n":43.3,"e":33.2,"u":19.4,"l":5.1},
{"t":2006.64,"n":43.3,"e":33.0,"u":18.8,"l":5.2},
{"t":2006.72,"n":43.3,"e":32.8,"u":19.5,"l":5.3},
{"t":2006.8,"n":43.4,"e":32.7,"u":19.8,"l":5.4},
{"t":2006.88,"n":43.4,"e":32.6,"u":20.6,"l":5.5},
{"t":2006.96,"n":43.4,"e":32.5,"u":20.1,"l":5.6},
{"t":2007.04,"n":43.5,"e":32.4,"u":20.8,"l":5.8},
{"t":2007.12,"n":43.5,"e":32.3,"u":20.3,"l":5.9},
{"t":2007.2,"n":43.6,"e":32.2,"u":20.8,"l":6.1},
{"t":2007.28,"n":43.5,"e":32.2,"u":20.1,"l":6.1},
{"t":2007.36,"n":43.5,"e":32.3,"u":20.7,"l":6.1},
{"t":2007.44,"n":43.4,"e":32.3,"u":21.0,"l":6.2},
{"t":2007.52,"n":43.4,"e":32.3,"u":21.9,"l":6.2},
{"t":2007.56,"n":43.4,"e":32.4,"u":22.3,"l":6.2},
{"t":2007.6,"n":43.3,"e":32.3,"u":21.8,"l":6.2},
{"t":2007.68,"n":43.3,"e":32.0,"u":21.4,"l":6.3},
{"t":2007.76,"n":43.3,"e":31.8,"u":20.6,"l":6.3},
{"t":2007.84,"n":43.3,"e":31.7,"u":20.5,"l":6.4},
{"t":2007.92,"n":43.3,"e":31.6,"u":20.5,"l":6.5},
{"t":2008,"n":43.3,"e":31.6,"u":21.0,"l":6.5},
{"t":2008.08,"n":43.3,"e":31.5,"u":21.1,"l":6.6},
{"t":2008.16,"n":43.4,"e":31.5,"u":21.4,"l":6.7},
{"t":2008.24,"n":43.3,"e":31.4,"u":20.9,"l":6.7},
{"t":2008.32,"n":43.3,"e":31.3,"u":20.9,"l":6.8},
{"t":2008.4,"n":43.3,"e":31.2,"u":21.1,"l":6.9},
{"t":2008.48,"n":43.3,"e":31.1,"u":21.5,"l":7.0},
{"t":2008.52,"n":43.3,"e":31.0,"u":21.8,"l":7.0},
{"t":2008.56,"n":43.3,"e":30.9,"u":21.3,"l":7.1},
{"t":2008.64,"n":43.3,"e":30.8,"u":21.1,"l":7.2},
{"t":2008.72,"n":43.3,"e":30.7,"u":20.8,"l":7.3},
{"t":2008.8,"n":43.3,"e":30.6,"u":21.8,"l":7.4},
{"t":2008.88,"n":43.3,"e":30.5,"u":22.2,"l":7.4},
{"t":2008.96,"n":43.3,"e":30.4,"u":21.9,"l":7.5},
{"t":2009.04,"n":43.3,"e":30.3,"u":22.5,"l":7.6},
{"t":2009.12,"n":43.3,"e":30.2,"u":22.2,"l":7.7},
{"t":2009.2,"n":43.3,"e":30.0,"u":22.7,"l":7.8},
{"t":2009.28,"n":43.4,"e":29.9,"u":23.1,"l":7.9},
{"t":2009.32,"n":43.4,"e":29.8,"u":23.4,"l":7.9}
],
"per":[
{"p":"期間A","s":2000.707,"e":2001.707},
{"p":"期間B","s":2001.707,"e":2002.707},
{"p":"期間C","s":2002.707,"e":2003.707},
{"p":"期間D","s":2003.707,"e":2004.707},
{"p":"期間E","s":2004.707,"e":2005.707},
{"p":"期間F","s":2005.707,"e":2006.707},
{"p":"期間G","s":2006.707,"e":2007.707},
{"p":"期間H","s":2007.707,"e":2008.707},
{"p":"期間Ｉ","s":2008.32,"e":2009.32}
]
},
"layer":[
{
"data":{"name":"pts"},
"transform":[{"fold":["n","e","u","l"],"as":["s","v"]}],
"mark":{"type":"point","shape":"square","filled":true,"size":16,"color":"black","opacity":1},
"encoding":{
"x":{"field":"t","type":"quantitative","scale":{"domain":[2001,2010],"nice":false,"zero":false},
"axis":{"orient":"bottom","values":[2001,2001.5,2002,2002.5,2003,2003.5,2004,2004.5,2005,2005.5,2006,2006.5,2007,2007.5,2008,2008.5,2009,2009.5,2010],
"labelExpr":"datum.value % 1 === 0 ? datum.value + '/1/1' : ''","labelFont":"Liberation Sans","labelFontSize":23,"labelColor":"black","labelPadding":12,"labelFlush":false,"labelOverlap":false,
"tickSize":-8,"tickColor":"black","tickWidth":1.5,"domain":false,
"grid":true,"gridColor":"#8a8a8a","gridDash":[2,3],"gridWidth":1,"gridOpacity":{"condition":{"test":"datum.value % 1 === 0","value":1},"value":0},"title":null}},
"y":{"field":"v","type":"quantitative","scale":{"domain":[0,50],"nice":false,"zero":false},
"axis":{"orient":"left","values":[0,1,2,3,4,5,6,7,8,9,10,11,12,13,14,15,16,17,18,19,20,21,22,23,24,25,26,27,28,29,30,31,32,33,34,35,36,37,38,39,40,41,42,43,44,45,46,47,48,49,50],
"labels":false,"tickSize":{"condition":{"test":"datum.value % 10 === 0","value":-12},"value":-7},"tickWidth":{"condition":{"test":"datum.value % 10 === 0","value":2.5},"value":1.5},"tickColor":"black","domain":false,
"grid":true,"gridColor":"#8a8a8a","gridDash":[2,3],"gridWidth":1,"gridOpacity":{"condition":{"test":"datum.value % 10 === 0","value":1},"value":0},
"title":"1 cm/div","titleFont":"Liberation Sans","titleFontSize":22,"titleFontWeight":"normal","titleColor":"black","titlePadding":20}}
}
},
{
"data":{"name":"ln"},
"transform":[{"fold":["n","e","u","l"],"as":["s","v"]}],
"mark":{"type":"line","color":"#ababab","strokeWidth":5.5,"strokeJoin":"round","strokeCap":"round"},
"encoding":{
"x":{"field":"t","type":"quantitative","scale":{"domain":[2001,2010],"nice":false,"zero":false},
"axis":{"orient":"top","values":[2001,2001.5,2002,2002.5,2003,2003.5,2004,2004.5,2005,2005.5,2006,2006.5,2007,2007.5,2008,2008.5,2009,2009.5,2010],"labels":false,"tickSize":-8,"tickColor":"black","tickWidth":1.5,"domain":false,"grid":false,"title":null}},
"y":{"field":"v","type":"quantitative","scale":{"domain":[0,50],"nice":false,"zero":false},
"axis":{"orient":"right","values":[0,1,2,3,4,5,6,7,8,9,10,11,12,13,14,15,16,17,18,19,20,21,22,23,24,25,26,27,28,29,30,31,32,33,34,35,36,37,38,39,40,41,42,43,44,45,46,47,48,49,50],"labels":false,"tickSize":{"condition":{"test":"datum.value % 10 === 0","value":-12},"value":-7},"tickWidth":{"condition":{"test":"datum.value % 10 === 0","value":2.5},"value":1.5},"tickColor":"black","domain":false,"grid":false,"title":null}},
"detail":{"field":"s","type":"nominal"}
}
},
{
"data":{"name":"per"},
"transform":[{"fold":["s","e"],"as":["k","b"]},{"filter":"datum.b > 2001"}],
"mark":{"type":"rule","color":"#6e6e6e","strokeWidth":2.5,"strokeDash":[8,3,2,3]},
"encoding":{"x":{"field":"b","type":"quantitative","axis":null}}
},
{
"data":{"name":"per"},
"transform":[{"filter":"datum.p !== '期間Ｉ'"},{"calculate":"(datum.s + datum.e) / 2","as":"m"}],
"layer":[
{"mark":{"type":"rule","color":"black","strokeWidth":2},
"encoding":{"x":{"field":"s","type":"quantitative","axis":null},"x2":{"field":"e"},"y":{"datum":0.45,"type":"quantitative","axis":null}}},
{"mark":{"type":"point","shape":"M0,0L1,-0.3L1,0.3Z","filled":true,"color":"black","size":784,"opacity":1,"strokeWidth":0},
"encoding":{"x":{"field":"s","type":"quantitative","axis":null},"y":{"datum":0.45,"type":"quantitative","axis":null}}},
{"mark":{"type":"point","shape":"M0,0L-1,-0.3L-1,0.3Z","filled":true,"color":"black","size":784,"opacity":1,"strokeWidth":0},
"encoding":{"x":{"field":"e","type":"quantitative","axis":null},"y":{"datum":0.45,"type":"quantitative","axis":null}}},
{"mark":{"type":"text","font":"Noto Sans CJK JP","fontSize":21,"fontWeight":"bold","align":"center","baseline":"middle","color":"black"},
"encoding":{"x":{"field":"m","type":"quantitative","axis":null},"y":{"datum":1.94,"type":"quantitative","axis":null},"text":{"field":"p"}}}
]
},
{
"data":{"name":"per"},
"transform":[{"filter":"datum.p === '期間Ｉ'"},{"calculate":"(datum.s + datum.e) / 2","as":"m"}],
"layer":[
{"mark":{"type":"rule","color":"black","strokeWidth":2},
"encoding":{"x":{"field":"s","type":"quantitative","axis":null},"x2":{"field":"e"},"y":{"datum":2.85,"type":"quantitative","axis":null}}},
{"mark":{"type":"point","shape":"M0,0L1,-0.3L1,0.3Z","filled":true,"color":"black","size":784,"opacity":1,"strokeWidth":0},
"encoding":{"x":{"field":"s","type":"quantitative","axis":null},"y":{"datum":2.85,"type":"quantitative","axis":null}}},
{"mark":{"type":"point","shape":"M0,0L-1,-0.3L-1,0.3Z","filled":true,"color":"black","size":784,"opacity":1,"strokeWidth":0},
"encoding":{"x":{"field":"e","type":"quantitative","axis":null},"y":{"datum":2.85,"type":"quantitative","axis":null}}},
{"mark":{"type":"text","font":"Noto Sans CJK JP","fontSize":21,"fontWeight":"bold","align":"center","baseline":"middle","color":"black"},
"encoding":{"x":{"field":"m","type":"quantitative","axis":null},"y":{"datum":3.9,"type":"quantitative","axis":null},"text":{"field":"p"}}}
]
},
{"data":{"values":[{"name":"NS"}]},"mark":{"type":"text","font":"Liberation Sans","fontStyle":"italic","fontSize":25,"align":"center","baseline":"alphabetic","color":"black"},
"encoding":{"x":{"datum":2007.25,"type":"quantitative","axis":null},"y":{"datum":44.5,"type":"quantitative","axis":null},"text":{"field":"name"}}},
{"data":{"values":[{"name":"EW"}]},"mark":{"type":"text","font":"Liberation Sans","fontStyle":"italic","fontSize":25,"align":"center","baseline":"alphabetic","color":"black"},
"encoding":{"x":{"datum":2007.25,"type":"quantitative","axis":null},"y":{"datum":33.7,"type":"quantitative","axis":null},"text":{"field":"name"}}},
{"data":{"values":[{"name":"UD"}]},"mark":{"type":"text","font":"Liberation Sans","fontStyle":"italic","fontSize":25,"align":"center","baseline":"alphabetic","color":"black"},
"encoding":{"x":{"datum":2007.25,"type":"quantitative","axis":null},"y":{"datum":23.84,"type":"quantitative","axis":null},"text":{"field":"name"}}},
{"data":{"values":[{"name":"Length"}]},"mark":{"type":"text","font":"Liberation Sans","fontStyle":"italic","fontSize":25,"align":"center","baseline":"alphabetic","color":"black"},
"encoding":{"x":{"datum":2007.25,"type":"quantitative","axis":null},"y":{"datum":7.7,"type":"quantitative","axis":null},"text":{"field":"name"}}}
],
"resolve":{"axis":{"x":"independent","y":"independent"}}
}
